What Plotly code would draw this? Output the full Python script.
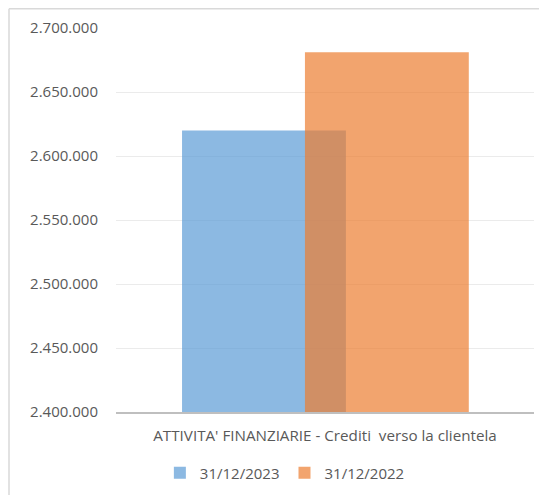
import plotly.graph_objects as go

categories = ["ATTIVITA' FINANZIARIE - Crediti  verso la clientela"]
series_names = ["31/12/2023", "31/12/2022"]
values_2023 = [2620000]
values_2022 = [2681000]
tick_vals = [2400000, 2450000, 2500000, 2550000, 2600000, 2650000, 2700000]
tick_text = ["2.400.000", "2.450.000", "2.500.000", "2.550.000", "2.600.000", "2.650.000", "2.700.000"]

FONT = "Open Sans"
GREY = "#595959"

# figure is placed at (8,8) by the page's default body margin
PW, PH = 418, 384
L, R, T, B = 108, 13, 20, 83
H = T + PH + B

fig = go.Figure()
fig.add_trace(go.Bar(
    x=categories, y=values_2023, name=series_names[0],
    marker=dict(color="rgba(91,155,213,0.7)", line=dict(width=0)),
    width=0.392, offset=-0.342,
))
fig.add_trace(go.Bar(
    x=categories, y=values_2022, name=series_names[1],
    marker=dict(color="rgba(237,125,49,0.7)", line=dict(width=0)),
    width=0.392, offset=-0.048,
))

fig.update_layout(
    width=L + PW + R, height=H,
    margin=dict(l=L, r=R, t=T, b=B, autoexpand=False),
    paper_bgcolor="white", plot_bgcolor="white",
    barmode="overlay",
    font=dict(family=FONT, color=GREY, size=14),
    showlegend=True,
    legend=dict(orientation="h", x=0.404, xanchor="center",
                yref="container", y=1 - 465 / H, yanchor="middle",
                font=dict(size=15, color=GREY), itemwidth=30, tracegroupgap=0),
    xaxis=dict(range=[-0.5, 0.5], showgrid=False, showline=True, linecolor="#BFBFBF",
               linewidth=2, ticks="", tickfont=dict(size=15.2, color=GREY),
               ticklabelstandoff=9),
    yaxis=dict(range=[2400000, 2700000], tickvals=tick_vals, ticktext=tick_text,
               showgrid=True, gridcolor="#EBEBEB", gridwidth=1, zeroline=False,
               showline=False, ticks="", tickfont=dict(size=15, color=GREY),
               ticklabelstandoff=17),
)

# chart border (left and top edges visible in the reference)
bx = -(L - 1) / PW
by = 1 + (T - 0.75) / PH
fig.add_shape(type="line", xref="paper", yref="paper",
              x0=bx, x1=bx, y0=-B / PH - 0.05, y1=by,
              line=dict(color="#D9D9D9", width=1.5))
fig.add_shape(type="line", xref="paper", yref="paper",
              x0=bx, x1=1 + R / PW + 0.05, y0=by, y1=by,
              line=dict(color="#D9D9D9", width=1.5))

fig.write_html("out.html")
